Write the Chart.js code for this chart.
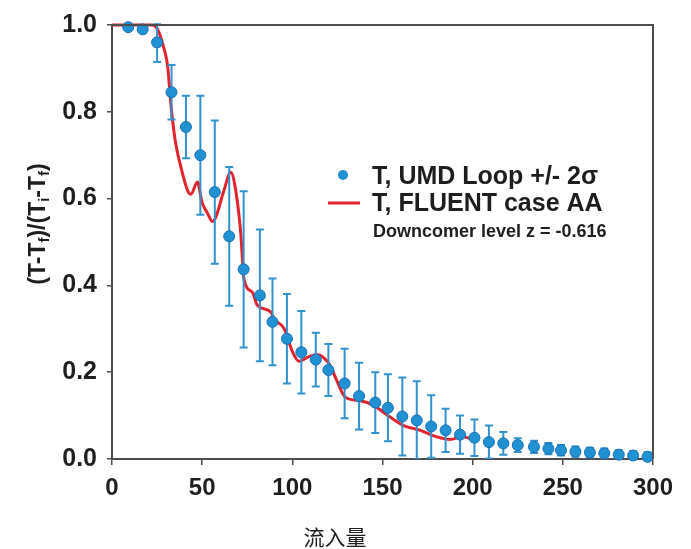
<!DOCTYPE html>
<html>
<head>
<meta charset="utf-8">
<script src="https://cdn.jsdelivr.net/npm/chart.js@4.4.0/dist/chart.umd.min.js"></script>
<style>
html, body { margin: 0; padding: 0; background: #fff; }
</style>
</head>
<body>
<canvas id="myChart" width="691" height="549"></canvas>
<script>
// UMD loop measurements (with +/- 2 sigma)
const umdX = [9, 17, 25, 33, 41, 49, 57, 65, 73, 82, 89, 97, 105, 113, 120, 129, 137, 146, 153, 161,
  169, 177, 185, 193, 201, 209, 217, 225, 234, 242, 249, 257, 265, 273, 281, 289, 297];
const umdY = [0.995, 0.99, 0.96, 0.845, 0.765, 0.70, 0.615, 0.513, 0.437, 0.377, 0.316, 0.277, 0.246, 0.229,
  0.205, 0.174, 0.145, 0.130, 0.118, 0.098, 0.089, 0.075, 0.066, 0.056, 0.049, 0.039, 0.036, 0.032,
  0.028, 0.024, 0.020, 0.017, 0.015, 0.013, 0.010, 0.008, 0.005];
const umdErr = [0.004, 0.006, 0.045, 0.063, 0.072, 0.137, 0.165, 0.16, 0.18, 0.152, 0.10, 0.103, 0.095, 0.062,
  0.06, 0.08, 0.077, 0.07, 0.077, 0.09, 0.09, 0.072, 0.05, 0.044, 0.042, 0.038, 0.026, 0.016,
  0.014, 0.013, 0.012, 0.012, 0.011, 0.011, 0.01, 0.01, 0.01];

// FLUENT case AA
const fluentX = [0, 22, 25.3, 28.9, 30.8, 32.7, 33.6, 35.4, 38.2, 41.9, 43.7, 47.4, 49.8, 53, 55.7, 57.6,
  62.1, 65.9, 68.6, 71.4, 73.2, 77.9, 80.6, 88, 89.8, 95.4, 100, 103.7, 109.2, 113.8, 116.6, 121.2,
  124, 129.5, 137.8, 145.2, 154.4, 161.8, 171, 180.2, 187.6, 194, 200.5];
const fluentY = [1.0, 1.0, 0.99, 0.945, 0.907, 0.816, 0.78, 0.725, 0.673, 0.619, 0.61, 0.638, 0.593, 0.566, 0.547, 0.558,
  0.619, 0.661, 0.619, 0.52, 0.414, 0.384, 0.354, 0.339, 0.323, 0.301, 0.248, 0.225, 0.236, 0.24, 0.236, 0.214,
  0.187, 0.142, 0.134, 0.123, 0.096, 0.077, 0.066, 0.051, 0.045, 0.051, 0.045];

const xTicks = [0, 50, 100, 150, 200, 250, 300];
const yTicks = [0, 0.2, 0.4, 0.6, 0.8, 1.0];

const BLUE = 'rgb(32, 146, 212)';
const BLUE_DARK = 'rgb(22, 112, 180)';
const BAR = 'rgb(48, 146, 206)';
const RED = 'rgb(226, 36, 46)';
const AXIS = '#4d4d4d';
const TXT = '#1e1e1e';
const FONT = '"Liberation Sans", Arial, sans-serif';

const umdPts = umdX.map((x, i) => ({x: x, y: umdY[i]}));
const fluentPts = fluentX.map((x, i) => ({x: x, y: fluentY[i]}));

const annot = {
  id: 'annot',
  beforeDatasetDraw(chart, args) {
    if (args.index !== 0) return;
    const ctx = chart.ctx, xs = chart.scales.x, ys = chart.scales.y, a = chart.chartArea;
    ctx.save();
    ctx.beginPath();
    ctx.rect(a.left, a.top - 2, a.right - a.left, a.bottom - a.top + 2);
    ctx.clip();
    ctx.strokeStyle = BAR;
    ctx.lineWidth = 2;
    for (let i = 0; i < umdX.length; i++) {
      const px = xs.getPixelForValue(umdX[i]);
      const top = ys.getPixelForValue(umdY[i] + umdErr[i]);
      const bot = ys.getPixelForValue(umdY[i] - umdErr[i]);
      ctx.beginPath();
      ctx.moveTo(px, top); ctx.lineTo(px, bot);
      ctx.moveTo(px - 4, top); ctx.lineTo(px + 4, top);
      ctx.moveTo(px - 4, bot); ctx.lineTo(px + 4, bot);
      ctx.stroke();
    }
    ctx.restore();
  },
  afterDraw(chart) {
    const ctx = chart.ctx, a = chart.chartArea;
    ctx.save();
    // top and right frame
    ctx.strokeStyle = AXIS;
    ctx.lineWidth = 2;
    ctx.beginPath();
    ctx.moveTo(a.left, a.top); ctx.lineTo(a.right, a.top); ctx.lineTo(a.right, a.bottom);
    ctx.stroke();

    // legend
    ctx.fillStyle = BLUE;
    ctx.beginPath(); ctx.arc(343, 175, 5, 0, Math.PI * 2); ctx.fill();
    ctx.strokeStyle = RED; ctx.lineWidth = 3;
    ctx.beginPath(); ctx.moveTo(328, 203); ctx.lineTo(360, 203); ctx.stroke();
    ctx.fillStyle = TXT;
    ctx.textBaseline = 'alphabetic';
    ctx.textAlign = 'left';
    ctx.font = 'bold 25px ' + FONT;
    ctx.fillText('T, UMD Loop +/- 2\u03c3', 372, 184);
    ctx.fillText('T, FLUENT case AA', 372, 211);
    ctx.font = 'bold 18px ' + FONT;
    ctx.fillText('Downcomer level z = -0.616', 373, 237);

    // x title
    ctx.font = '21px "Noto Sans CJK SC", sans-serif';
    ctx.textAlign = 'center';
    ctx.textBaseline = 'middle';
    ctx.fillText('流入量', 335, 537);

    // y title with subscripts
    const parts = [['(T-T', 0], ['f', 1], [')/(T', 0], ['i', 1], ['-T', 0], ['f', 1], [')', 0]];
    const big = 'bold 23px ' + FONT, small = 'bold 15px ' + FONT;
    let w = 0;
    parts.forEach(p => { ctx.font = p[1] ? small : big; w += ctx.measureText(p[0]).width; });
    ctx.translate(37, 224);
    ctx.rotate(-Math.PI / 2);
    ctx.textAlign = 'left';
    ctx.textBaseline = 'alphabetic';
    let cx = -w / 2;
    parts.forEach(p => {
      ctx.font = p[1] ? small : big;
      ctx.fillText(p[0], cx, p[1] ? 12 : 8);
      cx += ctx.measureText(p[0]).width;
    });
    ctx.restore();
  }
};

const data = {
  datasets: [
    {
      label: 'T, UMD Loop +/- 2\u03c3',
      data: umdPts,
      showLine: false,
      pointRadius: 5.5,
      pointBackgroundColor: BLUE,
      pointBorderColor: BLUE_DARK,
      pointBorderWidth: 1,
      clip: false,
      order: 0
    },
    {
      label: 'T, FLUENT case AA',
      data: fluentPts,
      showLine: true,
      borderColor: RED,
      borderWidth: 3,
      pointRadius: 0,
      cubicInterpolationMode: 'monotone',
      clip: false,
      order: 1
    }
  ]
};

const config = {
  type: 'scatter',
  data: data,
  plugins: [annot],
  options: {
    responsive: false,
    animation: false,
    layout: { padding: { top: 19, right: 38, left: 0, bottom: 0 } },
    plugins: {
      legend: { display: false },
      tooltip: { enabled: false }
    },
    scales: {
      x: {
        type: 'linear',
        min: 0,
        max: 300,
        afterFit: (s) => { s.height = 90; },
        afterBuildTicks: (s) => { s.ticks = xTicks.map(v => ({value: v})); },
        grid: { drawOnChartArea: false, drawTicks: true, tickLength: 6, color: AXIS, lineWidth: 1.5 },
        border: { display: true, color: AXIS, width: 2 },
        ticks: { color: TXT, font: { family: FONT, size: 24, weight: 'bold' }, padding: 9, maxRotation: 0,
          callback: (v) => String(v) }
      },
      y: {
        type: 'linear',
        min: 0,
        max: 1,
        afterFit: (s) => { s.width = 112; },
        afterBuildTicks: (s) => { s.ticks = yTicks.map(v => ({value: v})); },
        grid: { drawOnChartArea: false, drawTicks: true, tickLength: 5, color: AXIS, lineWidth: 1.5 },
        border: { display: true, color: AXIS, width: 2 },
        ticks: { color: TXT, font: { family: FONT, size: 25, weight: 'bold' }, padding: 10,
          callback: (v) => Number(v).toFixed(1) }
      }
    }
  }
};

const myChart = new Chart(document.getElementById('myChart'), config);
</script>
</body>
</html>
